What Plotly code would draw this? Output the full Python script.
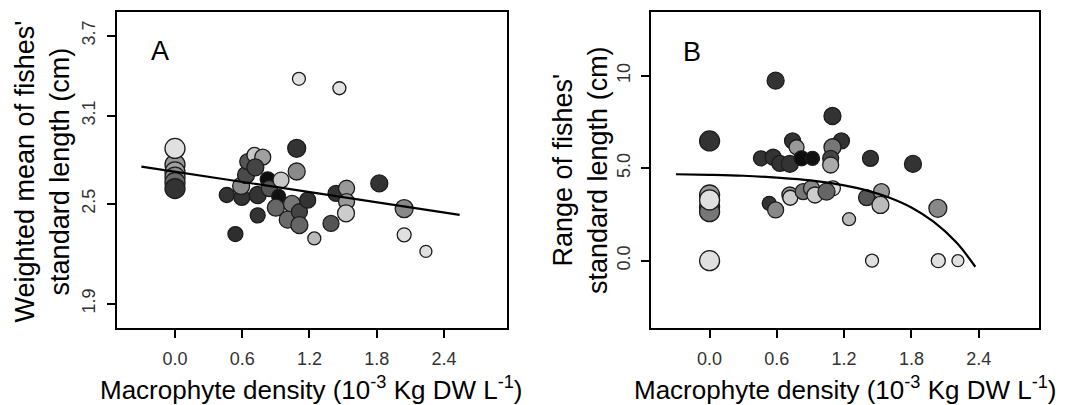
import numpy as np
import plotly.graph_objects as go

# ---------------- data ----------------
# Panel A: weighted mean of standard length (cm)
a_x = [0.0, 0.0, 0.0, 0.0, 0.0, 0.0,
       1.106, 1.467,
       0.462, 0.539, 0.596, 0.59, 0.634, 0.649, 0.709, 0.783, 0.717, 0.738, 0.738,
       0.827, 0.842, 0.946, 0.925, 0.90, 1.044, 1.086, 1.086, 1.006, 1.11, 1.11,
       1.184, 1.243, 1.392, 1.437, 1.531, 1.531, 1.526, 1.823, 2.045, 2.045, 2.239]
a_y = [2.76, 2.71, 2.675, 2.64, 2.87, 2.60,
       3.37, 3.30,
       2.558, 2.31, 2.543, 2.617, 2.69, 2.78, 2.825, 2.81, 2.741, 2.558, 2.427,
       2.661, 2.60, 2.656, 2.548, 2.476, 2.50, 2.871, 2.713, 2.40, 2.45, 2.366,
       2.524, 2.283, 2.376, 2.569, 2.602, 2.515, 2.44, 2.634, 2.47, 2.305, 2.204]
a_fill = ["#999999", "#a0a0a0", "#8c8c8c", "#6a6a6a", "#e0e0e0", "#333333",
          "#e2e2e2", "#e2e2e2",
          "#333333", "#2e2e2e", "#333333", "#8a8a8a", "#4a4a4a", "#555555", "#c8c8c8",
          "#a0a0a0", "#444444", "#333333", "#333333",
          "#0d0d0d", "#555555", "#c8c8c8", "#111111", "#666666", "#777777", "#333333",
          "#8a8a8a", "#6a6a6a", "#444444", "#666666",
          "#333333", "#bbbbbb", "#555555", "#333333", "#999999", "#999999", "#cccccc",
          "#333333", "#888888", "#e0e0e0", "#e0e0e0"]
a_size = [20, 20, 20, 20, 20, 20,
          13, 13,
          15, 15, 16, 17, 17, 16, 15, 16, 17, 17, 15,
          15, 16, 16, 14, 17, 17, 18, 17, 17, 16, 17,
          16, 13, 16, 16, 16, 16, 17, 17, 18, 14, 12]
a_line_x = [-0.30, 2.54]
a_line_y = [2.746, 2.43]
a_ticks = [1.9, 2.5, 3.1, 3.7]

# Panel B: range of standard length (cm)
b_x = [0.0, 0.0, 0.0, 0.0, 0.0, 0.0,
       0.589, 0.458, 0.567, 0.627, 0.716, 0.74, 0.776, 0.82, 0.918,
       1.096, 1.176, 1.096, 1.08, 1.08, 1.435, 1.814,
       0.532, 0.589, 0.716, 0.72, 0.835, 0.909, 1.10, 0.94, 1.043,
       1.40, 1.533, 1.524, 1.244, 1.449, 2.036, 2.04, 2.215]
b_y = [3.55, 2.92, 2.65, 3.28, 6.47, 0.0,
       9.73, 5.53, 5.59, 5.26, 5.23, 6.47, 6.13, 5.53, 5.53,
       7.82, 6.47, 6.13, 5.53, 5.17, 5.53, 5.23,
       3.10, 2.74, 3.55, 3.40, 3.73, 3.91, 3.91, 3.55, 3.73,
       3.41, 3.73, 3.01, 2.24, 0.0, 2.83, 0.0, 0.0]
b_fill = ["#999999", "#888888", "#777777", "#e0e0e0", "#333333", "#e0e0e0",
          "#333333", "#333333", "#333333", "#333333", "#333333", "#333333", "#999999",
          "#0d0d0d", "#111111",
          "#333333", "#333333", "#777777", "#444444", "#aaaaaa", "#333333", "#333333",
          "#333333", "#888888", "#999999", "#cccccc", "#777777", "#888888", "#dddddd",
          "#cccccc", "#666666",
          "#555555", "#999999", "#bbbbbb", "#bbbbbb", "#e0e0e0", "#888888", "#e0e0e0",
          "#e0e0e0"]
b_size = [20, 20, 20, 20, 20, 20,
          17, 15, 16, 16, 17, 16, 15, 15, 14,
          17, 16, 17, 16, 16, 16, 17,
          14, 16, 16, 15, 16, 16, 15, 16, 17,
          16, 16, 17, 13, 13, 18, 14, 12]
b_curve_x = [-0.30, 0.0, 0.3, 0.6, 0.9, 1.2, 1.4, 1.6, 1.8, 2.0, 2.2, 2.37]
b_curve_y = [4.67, 4.64, 4.59, 4.49, 4.34, 4.07, 3.80, 3.41, 2.87, 2.09, 0.99, -0.33]
b_ticks = [0.0, 5.0, 10.0]
b_ticktext = ["0.0", "5.0", "10"]

x_ticks = [0.0, 0.6, 1.2, 1.8, 2.4]

# ---------------- figure ----------------
W, H = 1082, 405
FONT = "Liberation Sans, Arial, sans-serif"
EDGE = "#1c1c1c"

fig = go.Figure()

# Panel A (y on square-root scale)
fig.add_trace(go.Scatter(
    x=a_x, y=np.sqrt(a_y), mode="markers", xaxis="x", yaxis="y",
    marker=dict(size=a_size, color=a_fill, line=dict(color=EDGE, width=1.3), opacity=1),
    showlegend=False, hoverinfo="skip"))
fig.add_trace(go.Scatter(
    x=a_line_x, y=np.sqrt(a_line_y), mode="lines", xaxis="x", yaxis="y",
    line=dict(color="black", width=2.2), showlegend=False, hoverinfo="skip"))

# Panel B
fig.add_trace(go.Scatter(
    x=b_x, y=b_y, mode="markers", xaxis="x2", yaxis="y2",
    marker=dict(size=b_size, color=b_fill, line=dict(color=EDGE, width=1.3), opacity=1),
    showlegend=False, hoverinfo="skip"))
fig.add_trace(go.Scatter(
    x=b_curve_x, y=b_curve_y, mode="lines", xaxis="x2", yaxis="y2",
    line=dict(color="black", width=2.2, shape="spline"), showlegend=False, hoverinfo="skip"))

axis_common = dict(showline=True, linecolor="black", linewidth=1.8, mirror=True,
                   ticks="outside", ticklen=8, tickwidth=1.5, tickcolor="black",
                   showgrid=False, zeroline=False,
                   tickfont=dict(family=FONT, size=18, color="#333333"))

ytop, ybot = 12, 328
ydom = [1 - ybot / H, 1 - ytop / H]

fig.update_layout(
    width=W, height=H,
    margin=dict(l=0, r=0, t=0, b=0),
    paper_bgcolor="white", plot_bgcolor="white",
    xaxis=dict(domain=[116.5 / W, 506.6 / W], range=[-0.522, 2.959],
               tickvals=x_ticks, ticktext=[f"{v:.1f}" for v in x_ticks],
               ticklabelstandoff=5, anchor="y", **axis_common),
    yaxis=dict(domain=ydom, range=[1.3287, 1.9717],
               tickvals=list(np.sqrt(a_ticks)), ticktext=[f"{v:.1f}" for v in a_ticks],
               tickangle=-90, ticklabelstandoff=4, anchor="x", **axis_common),
    xaxis2=dict(domain=[650.7 / W, 1039 / W], range=[-0.525, 2.938],
                tickvals=x_ticks, ticktext=[f"{v:.1f}" for v in x_ticks],
                ticklabelstandoff=5, anchor="y2", **axis_common),
    yaxis2=dict(domain=ydom, range=[-3.64, 13.44],
                tickvals=b_ticks, ticktext=b_ticktext,
                tickangle=-90, ticklabelstandoff=4, anchor="x2", **axis_common),
)

title_font = dict(family=FONT, size=26, color="black")
xtitle = "Macrophyte density (10<sup>-3</sup> Kg DW L<sup>-1</sup>)"
ann = [
    dict(text=xtitle, x=311.5 / W, y=1 - 388 / H, xref="paper", yref="paper",
         xanchor="center", yanchor="middle", showarrow=False, font=title_font),
    dict(text=xtitle, x=845 / W, y=1 - 388 / H, xref="paper", yref="paper",
         xanchor="center", yanchor="middle", showarrow=False, font=title_font),
    dict(text="Weighted mean of fishes'<br>standard length (cm)", x=41.5 / W, y=1 - 172 / H,
         xref="paper", yref="paper", xanchor="center", yanchor="middle",
         textangle=-90, showarrow=False, font=dict(family=FONT, size=27, color="black")),
    dict(text="Range of fishes'<br>standard length (cm)", x=580 / W, y=1 - 170 / H,
         xref="paper", yref="paper", xanchor="center", yanchor="middle",
         textangle=-90, showarrow=False, font=dict(family=FONT, size=27, color="black")),
    dict(text="A", x=160 / W, y=1 - 51 / H, xref="paper", yref="paper",
         xanchor="center", yanchor="middle", showarrow=False,
         font=dict(family=FONT, size=27, color="black")),
    dict(text="B", x=692 / W, y=1 - 52 / H, xref="paper", yref="paper",
         xanchor="center", yanchor="middle", showarrow=False,
         font=dict(family=FONT, size=27, color="black")),
]
fig.update_layout(annotations=ann)

fig.write_html("out.html")
